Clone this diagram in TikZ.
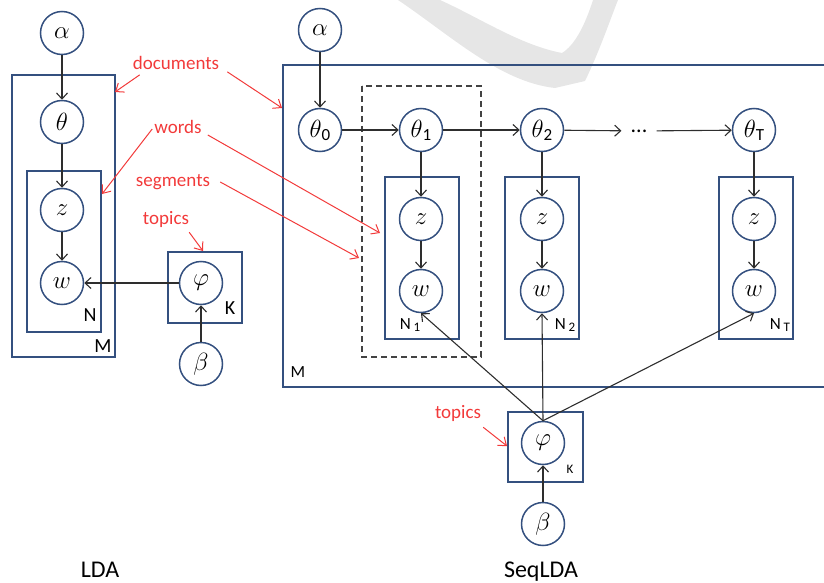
\documentclass[tikz,border=0pt]{standalone}
\usepackage{fontspec}
\setmainfont{Carlito}
\usetikzlibrary{arrows.meta}
\definecolor{navy}{HTML}{34507F}
\definecolor{redl}{HTML}{F23A3A}
\definecolor{arrc}{HTML}{2E2E2E}
\definecolor{wmark}{HTML}{E6E6E6}
\newcommand{\mysub}[1]{\raisebox{-3pt}{\fontsize{17}{17}\selectfont #1}}
\newcommand{\platesub}[1]{\,\raisebox{-2pt}{\fontsize{13}{13}\selectfont #1}}
\tikzset{
 var/.style={circle,draw=navy,line width=1.5pt,minimum size=43pt,inner sep=0pt,fill=white,font=\fontsize{25}{28}\selectfont},
 plate/.style={draw=navy,line width=1.5pt},
 segbox/.style={draw=arrc!90,line width=1.1pt,dash pattern=on 6pt off 4pt},
 arr/.style={draw=arrc,line width=1.1pt,-{Straight Barb[length=6pt,width=11pt]}},
 redarr/.style={draw=redl,line width=1pt,-{Straight Barb[length=7pt,width=11pt]}},
 redlab/.style={text=redl,font=\fontsize{19}{22}\selectfont,inner sep=2pt},
 platelab/.style={font=\fontsize{17}{20}\selectfont,inner sep=0pt},
 bigplatelab/.style={font=\fontsize{20}{22}\selectfont,inner sep=0pt},
 smalllab/.style={font=\fontsize{13}{15}\selectfont,inner sep=0pt},
 title/.style={font=\fontsize{24}{28}\selectfont}
}
\begin{document}
\begin{tikzpicture}[x=1pt,y=-1pt]
\path[use as bounding box] (0,0) rectangle (824,583);
\clip (0,0) rectangle (824,583);
% watermark
\fill[wmark] (398,0) .. controls (450,35) and (500,82) .. (555,88) -- (585,81) .. controls (600,50) and (610,20) .. (618,0) -- (593,0) .. controls (585,25) and (575,45) .. (562,53) .. controls (520,45) and (480,18) .. (440,0) -- cycle;

% ---------------- LDA ----------------
\draw[plate] (12,75) rectangle (115,357);
\draw[plate] (27,171) rectangle (101,332);
\draw[plate] (168,252) rectangle (242,323);
\node[var] (aL) at (62,33) {$\alpha$};
\node[var] (tL) at (62,122) {$\theta$};
\node[var] (zL) at (62,210) {$z$};
\node[var] (wL) at (62,283) {$w$};
\node[var] (pL) at (201,283) {$\varphi$};
\node[var] (bL) at (201,364) {$\beta$};
\node[bigplatelab] (NL) at (90,315) {N};
\node[bigplatelab] (ML) at (103,346) {M};
\node[bigplatelab] (KL) at (230,308) {K};
\draw[arr] (aL) -- (tL);
\draw[arr] (tL) -- (zL);
\draw[arr] (zL) -- (wL);
\draw[arr] (pL) -- (wL);
\draw[arr] (bL) -- (pL);
\node[title] (ldaT) at (100,570) {LDA};

% ---------------- SeqLDA ----------------
\draw[plate] (283,65) rectangle (834,387);
\draw[segbox] (362,86) rectangle (481,357);
\draw[plate] (385,177) rectangle (459,339);
\draw[plate] (505,177) rectangle (579,339);
\draw[plate] (719,177) rectangle (793,339);
\draw[plate] (508,412) rectangle (583,482);

\node[var] (aS) at (320,30) {$\alpha$};
\node[var] (t0) at (320,130) {$\theta$\mysub{0}};
\node[var] (t1) at (421,130) {$\theta$\mysub{1}};
\node[var] (t2) at (542,130) {$\theta$\mysub{2}};
\node[font=\fontsize{22}{24}\selectfont,inner xsep=9pt,inner ysep=2pt] (dots) at (639,131) {...};
\node[var] (tT) at (754,130) {$\theta$\mysub{T}};
\node[var] (z1) at (421,219) {$z$};
\node[var] (w1) at (421,291) {$w$};
\node[var] (z2) at (542,219) {$z$};
\node[var] (w2) at (542,291) {$w$};
\node[var] (zT) at (754,219) {$z$};
\node[var] (wT) at (754,291) {$w$};
\node[var] (pS) at (543,443) {$\varphi$};
\node[var] (bS) at (543,524) {$\beta$};

\node[platelab] (N1) at (410,325) {N\platesub{1}};
\node[platelab] (N2) at (565,325) {N\platesub{2}};
\node[platelab] (NT) at (780,325) {N\platesub{T}};
\node[platelab] (MS) at (298,372) {M};
\node[smalllab] (KS) at (570,469) {K};

\draw[arr] (aS) -- (t0);
\draw[arr] (t0) -- (t1);
\draw[arr] (t1) -- (t2);
\draw[arr] (t2) -- (dots);
\draw[arr] (dots) -- (tT);
\draw[arr] (t1) -- (z1);
\draw[arr] (z1) -- (w1);
\draw[arr] (t2) -- (z2);
\draw[arr] (z2) -- (w2);
\draw[arr] (tT) -- (zT);
\draw[arr] (zT) -- (wT);
\draw[arr] (pS.north) -- (w1.south);
\draw[arr] (pS.north) -- (w2.south);
\draw[arr] (pS.north) -- (wT.south);
\draw[arr] (bS) -- (pS);
\node[title] (seqT) at (541,572) {SeqLDA};

% ---------------- red annotations ----------------
\node[redlab] (docs) at (176,63) {documents};
\node[redlab] (words) at (178,127) {words};
\node[redlab] (segs) at (173,182) {segments};
\node[redlab] (topL) at (166,219) {topics};
\node[redlab] (topS) at (458,413) {topics};
\coordinate (d1) at (115,92);
\coordinate (d2) at (282,108);
\coordinate (wd1) at (102,194);
\coordinate (wd2) at (380,233);
\coordinate (sg) at (359,258);
\coordinate (tp1) at (203,251);
\coordinate (tp2) at (507,446);
\draw[redarr] ([xshift=9pt,yshift=-3pt]docs.south west) -- (d1);
\draw[redarr] ([xshift=6pt]docs.south east) -- (d2);
\draw[redarr] ([yshift=-2pt]words.west) -- (wd1);
\draw[redarr] ([xshift=4pt,yshift=-8pt]words.east) -- (wd2);
\draw[redarr] ([xshift=8pt]segs.east) -- (sg);
\draw[redarr] ([xshift=-2pt,yshift=-3pt]topL.south east) -- (tp1);
\draw[redarr] ([yshift=-4pt]topS.south east) -- (tp2);
\end{tikzpicture}
\end{document}
